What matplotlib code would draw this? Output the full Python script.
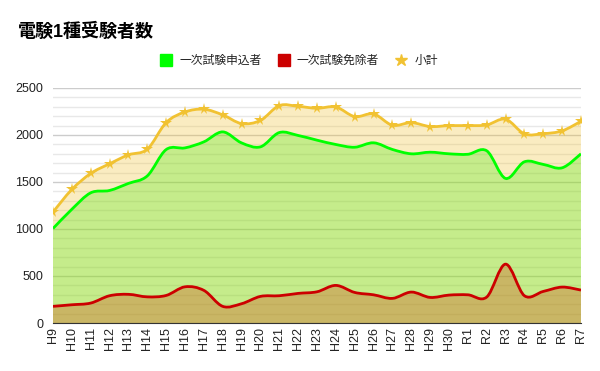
import matplotlib
matplotlib.use('Agg')
import matplotlib.pyplot as plt
from matplotlib.path import Path
from matplotlib.patches import PathPatch
from matplotlib.lines import Line2D
import numpy as np

# data
years = ['H9', 'H10', 'H11', 'H12', 'H13', 'H14', 'H15', 'H16', 'H17', 'H18',
         'H19', 'H20', 'H21', 'H22', 'H23', 'H24', 'H25', 'H26', 'H27', 'H28',
         'H29', 'H30', 'R1', 'R2', 'R3', 'R4', 'R5', 'R6', 'R7']
applicants = [1005, 1210, 1385, 1410, 1485, 1565, 1845, 1863, 1927, 2033,
              1916, 1874, 2026, 1995, 1945, 1899, 1870, 1917, 1846, 1800,
              1817, 1800, 1795, 1832, 1538, 1715, 1687, 1651, 1800]
exempt = [177, 194, 212, 290, 305, 278, 293, 385, 347, 177,
          205, 283, 290, 315, 332, 400, 325, 300, 262, 329,
          272, 297, 300, 276, 626, 290, 336, 382, 350]
subtotal = [1180, 1421, 1591, 1694, 1789, 1849, 2132, 2245, 2274, 2214,
            2122, 2155, 2313, 2305, 2284, 2298, 2196, 2224, 2104, 2132,
            2090, 2100, 2100, 2107, 2168, 2012, 2014, 2044, 2146]

labels = ['一次試験申込者', '一次試験免除者', '小計']
colors = ['#00ff00', '#cc0000', '#f1c232']

plt.rcParams['font.family'] = ['Liberation Sans', 'Noto Sans CJK JP', 'DejaVu Sans']


def curve_path(xs, ys, closed=False):
    # smooth curve through the points (Catmull-Rom as cubic beziers)
    pts = np.column_stack([xs, ys]).astype(float)
    n = len(pts)
    verts = [tuple(pts[0])]
    codes = [Path.MOVETO]
    for i in range(n - 1):
        p0 = pts[max(i - 1, 0)]
        p1 = pts[i]
        p2 = pts[i + 1]
        p3 = pts[min(i + 2, n - 1)]
        c1 = p1 + (p2 - p0) / 6.0
        c2 = p2 - (p3 - p1) / 6.0
        verts += [tuple(c1), tuple(c2), tuple(p2)]
        codes += [Path.CURVE4] * 3
    if closed:
        verts = [(xs[0], 0)] + verts + [(xs[-1], 0), (xs[0], 0)]
        codes = [Path.MOVETO, Path.LINETO] + codes[1:] + [Path.LINETO, Path.CLOSEPOLY]
    return Path(verts, codes)


x = np.arange(len(years))
series = [applicants, exempt, subtotal]

fig = plt.figure(figsize=(6, 3.71), dpi=100)
ax = fig.add_axes([53 / 600, 1 - 323 / 371, 528 / 600, 235 / 371])

# areas first, then lines
for vals, col in zip(series, colors):
    ax.add_patch(PathPatch(curve_path(x, vals, closed=True), facecolor=col,
                           alpha=0.3, edgecolor='none', zorder=2))
for vals, col in zip(series, colors):
    ax.add_patch(PathPatch(curve_path(x, vals), facecolor='none',
                           edgecolor=col, lw=2, zorder=3))
ax.plot(x, subtotal, linestyle='none', marker='*', markersize=8.5,
        color=colors[2], markeredgewidth=0, zorder=4)

ax.set_xlim(0, len(years) - 1)
ax.set_ylim(0, 2500)
ax.set_yticks(np.arange(0, 2501, 500))
ax.set_yticks(np.arange(0, 2501, 100), minor=True)
ax.set_xticks(x)
ax.set_xticklabels(years, rotation=90, fontsize=9, color='#222222')
ax.tick_params(axis='y', labelsize=9, labelcolor='#222222', length=0, pad=7)
ax.tick_params(axis='y', which='minor', length=0)
ax.tick_params(axis='x', length=0, pad=3)
ax.grid(axis='y', which='major', color='#cccccc', lw=1, zorder=0)
ax.grid(axis='y', which='minor', color='#e8e8e8', lw=1, zorder=0)
ax.set_axisbelow(True)
for s in ['left', 'right', 'top']:
    ax.spines[s].set_visible(False)
ax.spines['bottom'].set_color('#333333')
ax.spines['bottom'].set_zorder(5)

fig.text(18 / 600, 1 - 32 / 371, '電験1種受験者数', fontsize=13,
         fontweight='bold', va='center', ha='left')

handles = [
    Line2D([], [], linestyle='none', marker='s', markersize=8, color=colors[0]),
    Line2D([], [], linestyle='none', marker='s', markersize=8, color=colors[1]),
    Line2D([], [], linestyle='none', marker='*', markersize=9, color=colors[2]),
]
fig.legend(handles, labels, loc='center', bbox_to_anchor=(299 / 600, 1 - 61 / 371),
           ncol=3, frameon=False, fontsize=8.5, handlelength=1.0,
           handletextpad=0.6, columnspacing=1.4, labelcolor='#222222')

fig.savefig('out.png', dpi=100)
